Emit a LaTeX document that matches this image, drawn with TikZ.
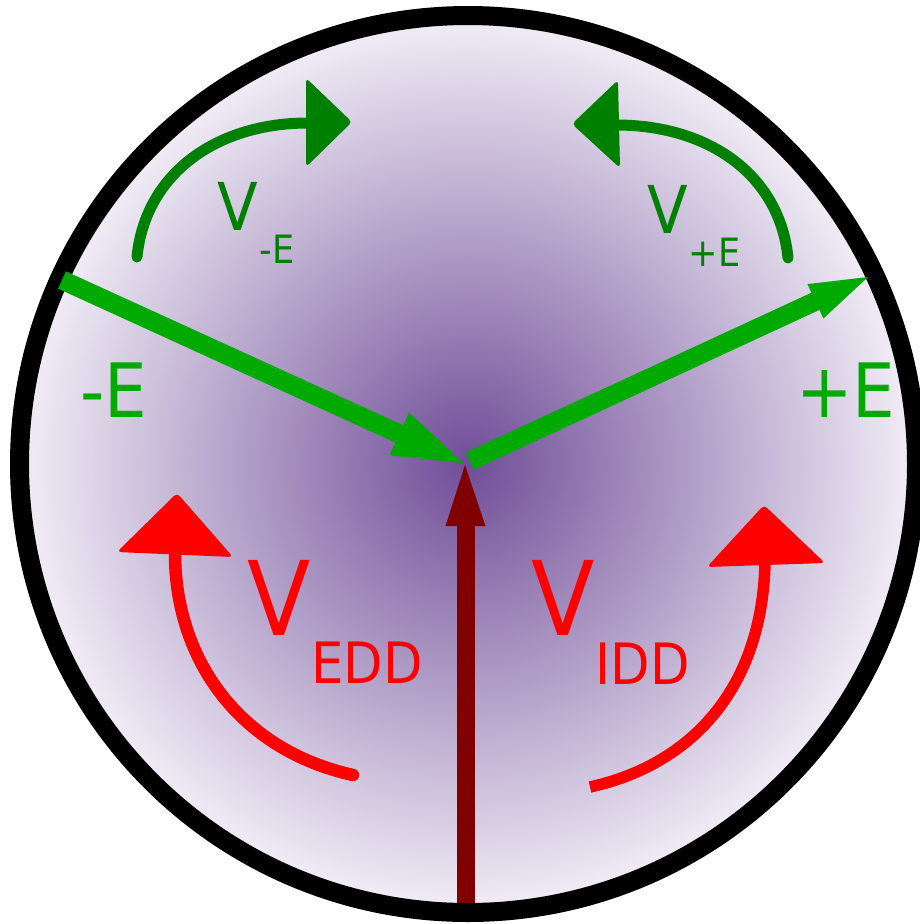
\documentclass[tikz,border=0pt]{standalone}
\usepackage{fontspec}
\setmainfont{DejaVu Sans Condensed}
\usetikzlibrary{calc}
\definecolor{pcenter}{RGB}{112,78,152}
\definecolor{pedge}{RGB}{245,242,249}
\definecolor{gbright}{RGB}{0,170,0}
\definecolor{gdark}{RGB}{0,128,0}
\definecolor{rdark}{RGB}{128,0,0}
\definecolor{rbright}{RGB}{255,0,0}
\pgfdeclareradialshading{discshade}{\pgfpoint{0bp}{0bp}}{color(0bp)=(pcenter); color(26bp)=(pedge); color(50bp)=(pedge)}
\begin{document}
\begin{tikzpicture}[x=1pt,y=-1pt,
  lab/.style={inner sep=0pt, anchor=base west},
  fieldline/.style={gbright, line width=19pt},
  turnline/.style={gdark, line width=11pt, line cap=round},
  driftline/.style={rbright, line width=12.5pt},
  headfill/.style={rounded corners=4pt}]
\useasboundingbox (0,0) rectangle (920,924);
\coordinate (O) at (468,464);
% shaded disc
\shade[shading=discshade] (O) circle[radius=442];
% dark red arrow
\coordinate (rbot) at (466,915);
\coordinate (rtip) at (465,465);
\draw[rdark, line width=18pt] (rbot) -- (466,522);
\fill[rdark] (rtip) -- (445.5,526) -- (485.5,526) -- cycle;
% ring
\draw[black, line width=19pt] (O) circle[radius=448.5];
% -E arrow
\coordinate (mEtail) at (62,280);
\coordinate (mEtip) at (463,463);
\draw[fieldline] (mEtail) -- ($(mEtail)!0.85!(mEtip)$);
\fill[gbright] (mEtip) -- (389.5,455.3) -- (409.1,412.5) -- cycle;
% +E arrow
\coordinate (pEtail) at (470,461);
\coordinate (pEtip) at (868,277);
\draw[fieldline] (pEtail) -- ($(pEtail)!0.875!(pEtip)$);
\fill[gbright] (pEtip) -- (823.4,318.5) -- (807.4,284.1) -- cycle;
% green curved arrows
\coordinate (lgs) at (137,257);
\coordinate (lge) at (308,123);
\draw[turnline] (lgs) .. controls (145,175) and (215,123) .. (lge);
\fill[gdark, headfill] (306,78) -- (352,122) -- (306,167) -- cycle;
\coordinate (rgs) at (788,258);
\coordinate (rge) at (616,125);
\draw[turnline] (rgs) .. controls (780,176) and (710,125) .. (rge);
\fill[gdark, headfill] (618,80) -- (572,124) -- (620,168) -- cycle;
% red curved arrows
\coordinate (lrs) at (353,775);
\coordinate (lre) at (175,553);
\draw[driftline, line cap=round] (lrs) .. controls (240,750) and (175,660) .. (lre);
\fill[rbright, headfill] (177,493) -- (233,557) -- (117,552) -- cycle;
\coordinate (rrs) at (590,787);
\coordinate (rre) at (765,563);
\draw[driftline, line width=11.5pt] (rrs) .. controls (690,765) and (762,690) .. (rre);
\fill[rbright, headfill] (764,505) -- (825,563) -- (707,567) -- cycle;
% labels
\node[lab, gbright, font=\fontsize{75}{75}\selectfont] (mElab) at (80,417) {-E};
\node[lab, gbright, font=\fontsize{75}{75}\selectfont] (pElab) at (796,417) {+E};
\node[lab, gdark] (vmE) at (217,230) {\fontsize{66}{66}\selectfont V\kern2pt\raisebox{-33pt}{\fontsize{39}{39}\selectfont -E}};
\node[lab, gdark] (vpE) at (647,233) {\fontsize{66}{66}\selectfont V\kern1pt\raisebox{-33pt}{\fontsize{39}{39}\selectfont +E}};
\node[lab, rbright] (vEDD) at (247,635) {\fontsize{103}{103}\selectfont V\kern1pt\raisebox{-48pt}{\fontsize{57}{57}\selectfont EDD}};
\node[lab, rbright] (vIDD) at (531,635) {\fontsize{103}{103}\selectfont V\kern1pt\raisebox{-49pt}{\fontsize{57}{57}\selectfont IDD}};
\end{tikzpicture}
\end{document}
